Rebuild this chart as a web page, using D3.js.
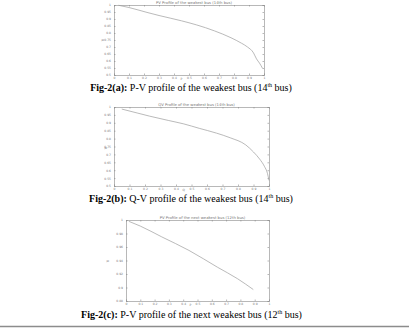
<!DOCTYPE html>
<html><head><meta charset="utf-8">
<script src="https://cdn.jsdelivr.net/npm/d3@7"></script>
<style>html,body{margin:0;padding:0;background:#fff;}svg{display:block;}
.cap{font-family:"Liberation Serif","Times New Roman",serif;}
.tiny{font-family:"DejaVu Sans",sans-serif;}</style>
</head><body>
<svg id="c" width="409" height="329"></svg>
<script>
// ---- data ----
const aLoad = [0.03, 0.10, 0.22, 0.30, 0.45, 0.55, 0.67, 0.78, 0.85, 0.89, 0.93, 0.95, 0.97, 0.99];
const aVolt = [0.998, 0.982, 0.947, 0.925, 0.887, 0.858, 0.815, 0.766, 0.727, 0.700, 0.658, 0.615, 0.585, 0.548];
const bQ    = [0.05, 0.15, 0.23, 0.35, 0.45, 0.55, 0.66, 0.75, 0.85, 0.90, 0.94, 0.97, 0.99, 1.00];
const bVolt = [0.987, 0.962, 0.942, 0.915, 0.893, 0.865, 0.835, 0.805, 0.760, 0.715, 0.670, 0.625, 0.580, 0.535];
const cLoad = [0.02, 0.10, 0.25, 0.44, 0.64, 0.78, 0.89];
const cVolt = [0.998, 0.991, 0.975, 0.955, 0.930, 0.913, 0.897];
const xTicks = [0, 0.1, 0.2, 0.3, 0.4, 0.5, 0.6, 0.7, 0.8, 0.9, 1];
const vTicksAB = [0.5, 0.55, 0.6, 0.65, 0.7, 0.75, 0.8, 0.85, 0.9, 0.95, 1];
const vTicksC = [0.88, 0.9, 0.92, 0.94, 0.96, 0.98, 1];
const titles = ["PV Profile of the weakest bus (14th bus)", "QV Profile of the weakest bus (14th bus)", "PV Profile of the next weakest bus (12th bus)"];
const axisX = ["P", "Q", "P"];
const captions = [
  ["Fig-2(a):", " P-V profile of the weakest bus (14", "th", " bus)"],
  ["Fig-2(b):", " Q-V profile of the weakest bus (14", "th", " bus)"],
  ["Fig-2(c):", " P-V profile of the next weakest bus (12", "th", " bus)"]
];

const svg = d3.select("#c");
svg.append("rect").attr("width",409).attr("height",329).attr("fill","#fff");

const panels = [
  {x0:114, x1:264, y0:5,   y1:75,  xs:aLoad, ys:aVolt, yDom:[0.5,1], yT:vTicksAB, ylx:104, yly:40, cap:captions[0], capX:191, capY:90.5, capW:202},
  {x0:114, x1:269, y0:107, y1:186, xs:bQ,    ys:bVolt, yDom:[0.5,1], yT:vTicksAB, ylx:107, yly:148, cap:captions[1], capX:191, capY:201.5, capW:204},
  {x0:126, x1:269, y0:220, y1:301, xs:cLoad, ys:cVolt, yDom:[0.88,1], yT:vTicksC, ylx:109, yly:261, cap:captions[2], capX:191.5, capY:317.5, capW:221}
];

panels.forEach((p,i)=>{
  const g = svg.append("g");
  const x = d3.scaleLinear().domain([0,1]).range([p.x0,p.x1]);
  const y = d3.scaleLinear().domain(p.yDom).range([p.y1,p.y0]);
  const fmt = d=>String(+d.toFixed(2));
  const style = sel=>{
    sel.attr("font-family",null).attr("font-size",null);
    sel.selectAll("path.domain").attr("stroke","#9a9a9a").attr("stroke-width",0.7);
    sel.selectAll("line").attr("stroke","#8a8a8a").attr("stroke-width",0.6);
    sel.selectAll("text").attr("class","tiny").attr("fill","#777").attr("font-size",3);
  };
  g.append("g").attr("transform",`translate(0,${p.y1})`)
    .call(d3.axisBottom(x).tickValues(xTicks).tickSize(-1.5).tickPadding(2).tickFormat(fmt)).call(style);
  g.append("g").attr("transform",`translate(0,${p.y0})`)
    .call(d3.axisTop(x).tickValues(xTicks).tickSize(-1.5).tickFormat("")).call(style);
  g.append("g").attr("transform",`translate(${p.x0},0)`)
    .call(d3.axisLeft(y).tickValues(p.yT).tickSize(-1.5).tickPadding(3).tickFormat(fmt)).call(style);
  g.append("g").attr("transform",`translate(${p.x1},0)`)
    .call(d3.axisRight(y).tickValues(p.yT).tickSize(-1.5).tickFormat("")).call(style);
  g.append("path").datum(p.xs.map((v,k)=>[v,p.ys[k]]))
    .attr("fill","none").attr("stroke","#9c9c9c").attr("stroke-width",0.7)
    .attr("d", d3.line().x(d=>x(d[0])).y(d=>y(d[1])).curve(d3.curveMonotoneX));
  g.append("text").attr("class","tiny").attr("x",(p.x0+p.x1)/2+5).attr("y",p.y0-1.3).attr("text-anchor","middle")
    .attr("font-size",3.8).attr("fill","#777").text(titles[i]);
  g.append("text").attr("class","tiny").attr("x",x(0.45)).attr("y",p.y1+5.2).attr("text-anchor","middle")
    .attr("font-size",3).attr("fill","#777").text(axisX[i]);
  g.append("text").attr("class","tiny").attr("transform",`translate(${p.ylx},${p.yly}) rotate(-90)`).attr("text-anchor","middle")
    .attr("font-size",3.5).attr("fill","#777").text("V");
  // caption
  const t = svg.append("text").attr("class","cap").attr("x",p.capX).attr("y",p.capY).attr("text-anchor","middle")
    .attr("font-size",10).attr("fill","#000");
  t.append("tspan").attr("font-weight","bold").text(p.cap[0]);
  t.append("tspan").text(p.cap[1]);
  t.append("tspan").attr("font-size",6).attr("dy",-3.5).text(p.cap[2]);
  t.append("tspan").attr("dy",3.5).text(p.cap[3]);
  const w = t.node().getComputedTextLength();
  const s = p.capW / w;
  t.attr("font-size",10*s);
  t.selectAll("tspan").filter((d,k)=>k===2).attr("font-size",6*s).attr("dy",-3.5*s);
  t.selectAll("tspan").filter((d,k)=>k===3).attr("dy",3.5*s);
});

svg.append("line").attr("x1",0).attr("x2",409).attr("y1",326.5).attr("y2",326.5)
  .attr("stroke","#8c8c8c").attr("stroke-width",1.5);
</script>
</body></html>
